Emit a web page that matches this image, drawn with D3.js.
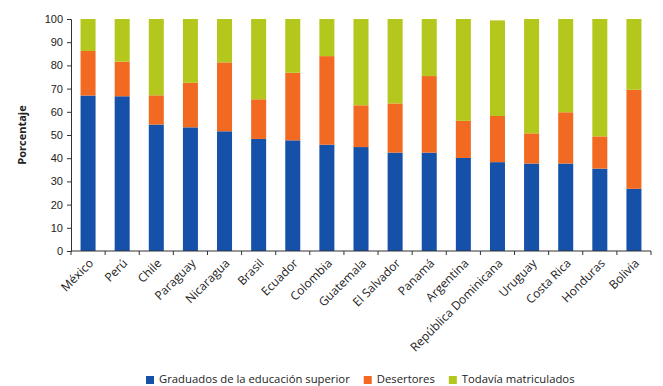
<!DOCTYPE html>
<html>
<head>
<meta charset="utf-8">
<script src="https://cdn.jsdelivr.net/npm/d3@7"></script>
<style>
  html, body { margin: 0; padding: 0; background: #fff; }
  svg { display: block; font-family: "Open Sans", sans-serif; }
</style>
</head>
<body>
<svg id="chart" width="663" height="386"></svg>
<script>
// Cohort outcomes by country (percent)
const countries = ["México", "Perú", "Chile", "Paraguay", "Nicaragua", "Brasil", "Ecuador", "Colombia",
  "Guatemala", "El Salvador", "Panamá", "Argentina", "República Dominicana", "Uruguay",
  "Costa Rica", "Honduras", "Bolivia"];
const graduados = [67.0, 66.7, 54.5, 53.3, 51.6, 48.3, 47.7, 45.8, 44.8, 42.4, 42.4, 40.1, 38.3, 37.7, 37.7, 35.5, 26.8];
const desertores = [19.2, 14.9, 12.6, 19.2, 29.7, 17.1, 29.1, 38.2, 18.0, 21.2, 33.0, 16.0, 19.9, 13.0, 22.1, 13.9, 42.7];
const matriculados = [13.8, 18.4, 32.9, 27.5, 18.7, 34.6, 23.2, 16.0, 37.2, 36.4, 24.6, 43.9, 41.2, 49.3, 40.2, 50.6, 30.5];
const yTicks = [0, 10, 20, 30, 40, 50, 60, 70, 80, 90, 100];
const seriesNames = ["Graduados de la educación superior", "Desertores", "Todavía matriculados"];
const seriesColors = ["#1550a9", "#f26a21", "#b4c71c"];

const svg = d3.select("#chart");
const margin = { left: 71, right: 12, top: 19, bottom: 135 };
const width = 663, height = 386;

const x = d3.scaleBand().domain(countries).range([margin.left, width - margin.right]).paddingInner(0.56).paddingOuter(0.28);
const y = d3.scaleLinear().domain([0, 100]).range([height - margin.bottom, margin.top]);

const rows = countries.map((c, i) => ({ country: c, g: graduados[i], d: desertores[i], m: matriculados[i] }));
const stack = d3.stack().keys(["g", "d", "m"])(rows);

svg.append("g").selectAll("g").data(stack).join("g")
  .attr("fill", (s, i) => seriesColors[i])
  .selectAll("rect").data(s => s).join("rect")
  .attr("x", d => x(d.data.country))
  .attr("width", x.bandwidth())
  .attr("y", d => y(d[1]))
  .attr("height", d => y(d[0]) - y(d[1]));

// Y axis
const yAxis = svg.append("g").attr("transform", `translate(${margin.left},0)`)
  .call(d3.axisLeft(y).tickValues(yTicks).tickSize(4).tickPadding(4));
yAxis.select(".domain").attr("stroke", "#333");
yAxis.selectAll(".tick line").attr("stroke", "#333");
yAxis.selectAll("text").attr("font-size", 11).attr("fill", "#222").style("font-family", "inherit");

// X axis: ticks sit on band boundaries
const x0 = margin.left, step = x.step();
const xAxisG = svg.append("g").attr("transform", `translate(0,${y(0)})`);
xAxisG.append("line").attr("x1", x0).attr("x2", width - margin.right).attr("stroke", "#333");
xAxisG.selectAll("line.tk").data(d3.range(countries.length + 1)).join("line")
  .attr("class", "tk")
  .attr("x1", i => x0 + i * step).attr("x2", i => x0 + i * step)
  .attr("y1", 0).attr("y2", 4).attr("stroke", "#333");
xAxisG.selectAll("text").data(countries).join("text")
  .attr("transform", c => `translate(${x(c) + x.bandwidth() / 2 + 6},13) rotate(-45)`)
  .attr("text-anchor", "end")
  .attr("font-size", 12)
  .attr("fill", "#222")
  .text(c => c);

// Y axis title
svg.append("text")
  .attr("transform", `translate(26,${(y(0) + y(100)) / 2}) rotate(-90)`)
  .attr("text-anchor", "middle")
  .attr("font-size", 11)
  .attr("font-weight", "bold")
  .attr("fill", "#222")
  .text("Porcentaje");

// Legend
const legend = svg.append("g").attr("transform", "translate(146,383)");
let lx = 0;
seriesNames.forEach((name, i) => {
  const g = legend.append("g").attr("transform", `translate(${lx},0)`);
  g.append("rect").attr("x", 0).attr("y", -7).attr("width", 8).attr("height", 8).attr("fill", seriesColors[i]);
  const t = g.append("text").attr("x", 13).attr("y", 0).attr("font-size", 11.3).attr("fill", "#222").text(name);
  lx += 13 + t.node().getComputedTextLength() + 14;
});
</script>
</body>
</html>
